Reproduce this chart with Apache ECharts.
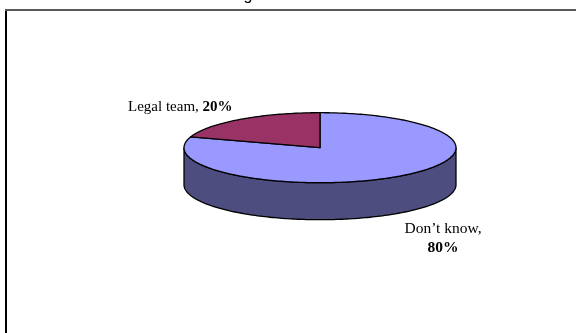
<!DOCTYPE html>
<html>
<head>
<meta charset="utf-8">
<style>html,body{margin:0;padding:0;background:#fff}#c{width:576px;height:333px}</style>
<script src="https://cdn.jsdelivr.net/npm/echarts@6/dist/echarts.min.js"></script>
</head>
<body>
<div id="c"></div>
<script>
const categories = ["Don\u2019t know", "Legal team"];
const values = [80, 20];
const colors = ["#9999ff", "#993366"];
const wallColor = "#4d4d80";

const total = values.reduce((a, b) => a + b, 0);
const cx = 320, cy = 147.7, rx = 136, ry = 35, depth = 37;
const pt = (a, dy) => [cx + rx * Math.sin(a), cy + (dy || 0) - ry * Math.cos(a)];

function arc(a0, a1, dy) {
  const n = Math.max(2, Math.ceil(Math.abs(a1 - a0) / 0.02));
  const out = [];
  for (let i = 0; i <= n; i++) out.push(pt(a0 + (a1 - a0) * i / n, dy));
  return out;
}

function renderItem(params, api) {
  const i = params.dataIndex;
  let before = 0;
  for (let k = 0; k < i; k++) before += values[k];
  const a0 = before / total * 2 * Math.PI;
  const a1 = (before + api.value(0)) / total * 2 * Math.PI;
  const children = [];
  const w0 = Math.max(a0, Math.PI / 2), w1 = Math.min(a1, Math.PI * 1.5);
  if (w1 > w0) {
    children.push({
      type: "polygon",
      shape: { points: arc(w0, w1, 0).concat(arc(w1, w0, depth)) },
      style: { fill: wallColor, stroke: "#000", lineWidth: 1.3 }
    });
  }
  children.push({
    type: "polygon",
    shape: { points: [[cx, cy]].concat(arc(a0, a1, 0)) },
    style: { fill: colors[i], stroke: "#000", lineWidth: 1.3, lineJoin: "round" }
  });
  return { type: "group", children };
}

const labelFont = "Liberation Serif";
const chart = echarts.init(document.getElementById("c"), null, { renderer: "canvas" });
chart.setOption({
  animation: false,
  backgroundColor: "#fff",
  series: [{
    type: "custom",
    coordinateSystem: "none",
    renderItem,
    silent: true,
    data: values.map((v, i) => ({ name: categories[i], value: [v] }))
  }],
  graphic: [
    { type: "rect", shape: { x: 5, y: 9, width: 571, height: 2 }, style: { fill: "#585858" } },
    { type: "rect", shape: { x: 5, y: 11, width: 2, height: 322 }, style: { fill: "#000" } },
    { type: "text", x: 248, y: -12, style: { text: "g", font: "16px 'Liberation Sans'", fill: "#000", align: "center", verticalAlign: "top" } },
    { type: "text", x: 128, y: 100, style: {
        text: "{a|" + categories[1] + ", }{b|" + values[1] + "%}",
        rich: {
          a: { font: "15px " + labelFont, fill: "#000" },
          b: { font: "bold 15px " + labelFont, fill: "#000" }
        }
      } },
    { type: "text", x: 443, y: 219, style: {
        text: "{a|" + categories[0] + ",}\n{b|" + values[0] + "%}",
        align: "center",
        rich: {
          a: { font: "15.5px " + labelFont, fill: "#000", lineHeight: 19, align: "center" },
          b: { font: "bold 15.5px " + labelFont, fill: "#000", lineHeight: 19, align: "center" }
        }
      } }
  ]
});
</script>
</body>
</html>
